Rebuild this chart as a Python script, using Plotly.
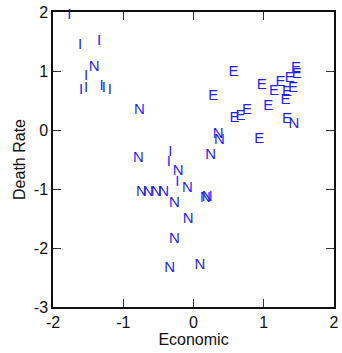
import plotly.graph_objects as go

# Economic score vs death rate, each country labelled by its group letter
econ_I = [-1.766, -1.615, -1.345, -1.53, -1.60, -1.53, -1.31, -1.275, -1.19, -0.33, -0.35, -0.23]
death_I = [1.95, 1.43, 1.50, 0.91, 0.68, 0.71, 0.74, 0.70, 0.68, -0.37, -0.55, -0.88]

econ_N = [-1.415, -0.77, -0.785, -0.22, -0.085, 0.35, 0.37, 0.245, -0.74, -0.645, -0.53, -0.425,
          -0.27, -0.075, 0.195, 0.17, -0.27, -0.34, 0.09, 1.43]
death_N = [1.06, 0.33, -0.48, -0.70, -0.98, -0.07, -0.17, -0.43, -1.05, -1.05, -1.05, -1.05,
           -1.245, -1.52, -1.14, -1.16, -1.855, -2.35, -2.30, 0.10]

econ_E = [0.57, 0.28, 0.97, 1.145, 1.24, 1.33, 1.37, 1.415, 1.46, 1.47, 1.31, 1.065,
          0.585, 0.67, 0.76, 1.33, 0.935]
death_E = [0.98, 0.57, 0.76, 0.65, 0.81, 0.645, 0.88, 0.71, 1.05, 0.95, 0.51, 0.41,
           0.20, 0.23, 0.33, 0.18, -0.16]

x_ticks = [-2, -1, 0, 1, 2]
y_ticks = [-3, -2, -1, 0, 1, 2]

FONT = "Liberation Sans, Arial, sans-serif"
MARK = "#1f1fff"

fig = go.Figure()
for xs, ys, letter in [(econ_I, death_I, "I"), (econ_N, death_N, "N"), (econ_E, death_E, "E")]:
    fig.add_trace(go.Scatter(
        x=xs, y=ys, mode="text", text=[letter] * len(xs),
        textposition="middle center",
        textfont=dict(family=FONT, size=15, color=MARK),
        cliponaxis=False, showlegend=False, hoverinfo="skip",
    ))

axis_common = dict(
    showgrid=False, zeroline=False, showline=True, linecolor="#111111", linewidth=1.5,
    mirror="ticks", ticks="inside", ticklen=8, tickwidth=1, tickcolor="#333333",
    tickfont=dict(family=FONT, size=16, color="#111111"),
)

fig.update_xaxes(
    range=[-2, 2], tickvals=x_ticks, ticktext=[str(v) for v in x_ticks],
    title=dict(text="Economic", font=dict(family=FONT, size=16, color="#111111"), standoff=4),
    **axis_common,
)
fig.update_yaxes(
    range=[-3, 2], tickvals=y_ticks, ticktext=[str(v) for v in y_ticks],
    title=dict(text="Death Rate", font=dict(family=FONT, size=16, color="#111111"), standoff=4),
    **axis_common,
)

fig.update_layout(
    width=342, height=353,
    margin=dict(l=53, r=3, t=12, b=46),
    plot_bgcolor="white", paper_bgcolor="white",
)

fig.write_html("out.html")
